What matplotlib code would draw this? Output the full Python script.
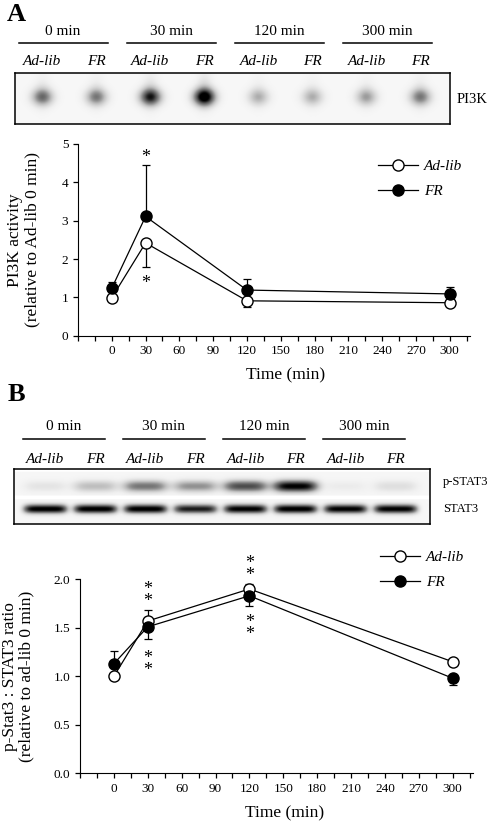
import numpy as np
import matplotlib
matplotlib.use("Agg")
import matplotlib.pyplot as plt
import matplotlib.transforms as mtransforms
from matplotlib.ticker import MultipleLocator, FormatStrFormatter

plt.rcParams['font.family'] = ['Liberation Serif', 'DejaVu Serif']

# ---- data ----
time_min = [0, 30, 120, 300]
groups = ['0 min', '30 min', '120 min', '300 min']
lane_labels = ['Ad-lib', 'FR'] * 4

# panel A: PI3K activity
pi3k_adlib = [0.99, 2.42, 0.91, 0.86]
pi3k_fr = [1.24, 3.11, 1.19, 1.09]
pi3k_adlib_lo = [0.03, 0.62, 0.15, 0.03]
pi3k_adlib_hi = [0.0, 0.0, 0.0, 0.0]
pi3k_fr_lo = [0.0, 0.0, 0.0, 0.0]
pi3k_fr_hi = [0.15, 1.35, 0.29, 0.19]
pi3k_stars = [(30, 4.64, '*'), (30, 1.37, '*')]

# panel B: p-STAT3 / STAT3 ratio
stat_adlib = [1.0, 1.57, 1.90, 1.15]
stat_fr = [1.13, 1.51, 1.83, 0.98]
stat_adlib_lo = [0.03, 0.0, 0.0, 0.0]
stat_adlib_hi = [0.0, 0.11, 0.05, 0.02]
stat_fr_lo = [0.0, 0.13, 0.11, 0.07]
stat_fr_hi = [0.13, 0.0, 0.0, 0.0]
stat_stars = [(30, 1.83, '*\n*'), (30, 1.12, '*\n*'),
              (120, 2.10, '*\n*'), (120, 1.49, '*\n*')]

# band darkness per lane (0 = nothing, 1 = black)
pi3k_band = [0.55, 0.50, 0.80, 1.00, 0.33, 0.33, 0.38, 0.50]
pstat3_band = [0.12, 0.30, 0.55, 0.45, 0.70, 0.95, 0.08, 0.15]
stat3_band = [0.97, 0.97, 0.97, 0.85, 0.95, 0.97, 0.95, 0.95]


def bands(intens, xl, xr, yc, sx, sy, px, ncol=440, nrow=60):
    x = np.linspace(xl, xr, ncol)
    y = np.linspace(0, 1, nrow)
    X, Y = np.meshgrid(x, y)
    img = np.zeros_like(X)
    for i, v in enumerate(intens):
        img += v * np.exp(-np.abs((X - i) / sx) ** px) * np.exp(-((Y - yc) / sy) ** 2)
    return X, Y, img


def blot_header(ax, label_y, line_y, head_y, centre_shift, half):
    tr = mtransforms.blended_transform_factory(ax.transData, ax.transAxes)
    for i, lab in enumerate(lane_labels):
        ax.text(i, label_y, lab, transform=tr, ha='center', va='center',
                fontsize=11, style='italic')
    for k, g in enumerate(groups):
        c = 2 * k + centre_shift
        ax.plot([c - half, c + half], [line_y, line_y], color='black', lw=1.1,
                transform=tr, clip_on=False)
        ax.text(c, head_y, g, transform=tr, ha='center', va='center', fontsize=11)
    return tr


def line_chart(ax, ad, fr, ad_err, fr_err, leg_xy):
    ax.errorbar(time_min, ad, yerr=ad_err, fmt='none', ecolor='black',
                elinewidth=0.9, capsize=3, capthick=0.9)
    ax.errorbar(time_min, fr, yerr=fr_err, fmt='none', ecolor='black',
                elinewidth=0.9, capsize=3, capthick=0.9)
    ax.plot(time_min, ad, '-o', color='black', mfc='white', mec='black',
            ms=8, mew=1, lw=0.9, label='Ad-lib', zorder=3)
    ax.plot(time_min, fr, '-o', color='black', mfc='black', mec='black',
            ms=8, mew=1, lw=0.9, label='FR', zorder=4)
    ax.set_xlim(-30, 318)
    ax.xaxis.set_minor_locator(MultipleLocator(15))
    ax.set_xticks([0, 30, 60, 90, 120, 150, 180, 210, 240, 270, 300])
    for s in ['top', 'right']:
        ax.spines[s].set_visible(False)
    ax.tick_params(which='both', direction='out', length=3.5, width=0.9, labelsize=9.5)
    ax.legend(frameon=False, handlelength=2.6, handletextpad=0.4,
              labelspacing=0.75, borderpad=0, borderaxespad=0,
              prop={'style': 'italic', 'size': 11},
              loc='upper left', bbox_to_anchor=leg_xy)


fig = plt.figure(figsize=(4.92, 8.22), dpi=100)

# ---------------- panel A blot ----------------
axb = fig.add_axes([15 / 492, 1 - 124 / 822, 435 / 492, 51 / 822])
xl, xr = -0.5, 7.54
X, Y, img = bands(pi3k_band, xl, xr, 0.47, 0.2, 0.17, 2)
smear = np.zeros_like(img)
for i, v in enumerate(pi3k_band):
    smear += 0.14 * v * np.exp(-((X - i) / 0.15) ** 2) * np.exp(-((Y - 0.3) / 0.4) ** 2)
img = np.clip(img + smear + 0.06, 0, 1)
axb.imshow(img, extent=[xl, xr, 1, 0], cmap='Greys', vmin=0, vmax=1,
           aspect='auto', interpolation='bilinear')
axb.set_xlim(xl, xr)
axb.set_ylim(1, 0)
axb.set_xticks([])
axb.set_yticks([])
for s in axb.spines.values():
    s.set_linewidth(1.1)
tr = blot_header(axb, 1.22, 1.59, 1.82, 0.39, 0.82)
axb.text(7.67, 0.49, 'PI3K', transform=tr, ha='left', va='center', fontsize=10.5)
axb.text(-0.48, 2.14, 'A', transform=tr, ha='center', va='center',
         fontsize=19, fontweight='bold')

# ---------------- panel A chart ----------------
ax1 = fig.add_axes([78 / 492, 1 - 335.7 / 822, 392 / 492, 191.7 / 822])
line_chart(ax1, pi3k_adlib, pi3k_fr,
           [pi3k_adlib_lo, pi3k_adlib_hi], [pi3k_fr_lo, pi3k_fr_hi], (0.765, 0.92))
ax1.set_ylim(0, 5)
ax1.yaxis.set_major_locator(MultipleLocator(1))
ax1.set_ylabel('PI3K activity\n(relative to Ad-lib 0 min)', fontsize=12.5, linespacing=1.05)
ax1.yaxis.set_label_coords(-0.097, 0.5)
ax1.set_xlabel('Time (min)', fontsize=12.5)
ax1.xaxis.set_label_coords(0.53, -0.165)
for x, y, s in pi3k_stars:
    ax1.text(x, y, s, ha='center', va='center', fontsize=13)

# ---------------- panel B blot ----------------
axc = fig.add_axes([14 / 492, 1 - 524 / 822, 416 / 492, 55 / 822])
xl, xr = -0.62, 7.68
X, Y, p_img = bands(pstat3_band, xl, xr, 0.31, 0.45, 0.11, 4)
_, _, s_img = bands(stat3_band, xl, xr, 0.73, 0.44, 0.085, 6)
img = np.where(Y < 0.48, p_img + 0.07, 0.0) + np.where(Y > 0.55, s_img + 0.07, 0.0)
img = np.where(Y < 0.04, 0.0, img)
img = np.clip(img, 0, 1)
axc.imshow(img, extent=[xl, xr, 1, 0], cmap='Greys', vmin=0, vmax=1,
           aspect='auto', interpolation='bilinear')
axc.set_xlim(xl, xr)
axc.set_ylim(1, 0)
axc.set_xticks([])
axc.set_yticks([])
for s in axc.spines.values():
    s.set_linewidth(1.1)
tr = blot_header(axc, 1.18, 1.545, 1.78, 0.37, 0.82)
axc.text(7.94, 0.76, 'p-STAT3', transform=tr, ha='left', va='center', fontsize=9)
axc.text(7.94, 0.27, 'STAT3', transform=tr, ha='left', va='center', fontsize=9)
axc.text(-0.58, 2.35, 'B', transform=tr, ha='center', va='center',
         fontsize=19, fontweight='bold')

# ---------------- panel B chart ----------------
ax2 = fig.add_axes([80 / 492, 1 - 773.3 / 822, 393 / 492, 194 / 822])
line_chart(ax2, stat_adlib, stat_fr,
           [stat_adlib_lo, stat_adlib_hi], [stat_fr_lo, stat_fr_hi], (0.763, 1.15))
ax2.set_ylim(0, 2.0)
ax2.yaxis.set_major_locator(MultipleLocator(0.5))
ax2.yaxis.set_major_formatter(FormatStrFormatter('%.1f'))
ax2.set_ylabel('p-Stat3 : STAT3 ratio\n(relative to ad-lib 0 min)', fontsize=12.5, linespacing=1.05)
ax2.yaxis.set_label_coords(-0.115, 0.5)
ax2.set_xlabel('Time (min)', fontsize=12.5)
ax2.xaxis.set_label_coords(0.52, -0.163)
for x, y, s in stat_stars:
    ax2.text(x, y, s, ha='center', va='center', fontsize=13,
             linespacing=0.62, clip_on=False)

fig.savefig('out.png', dpi=100)
